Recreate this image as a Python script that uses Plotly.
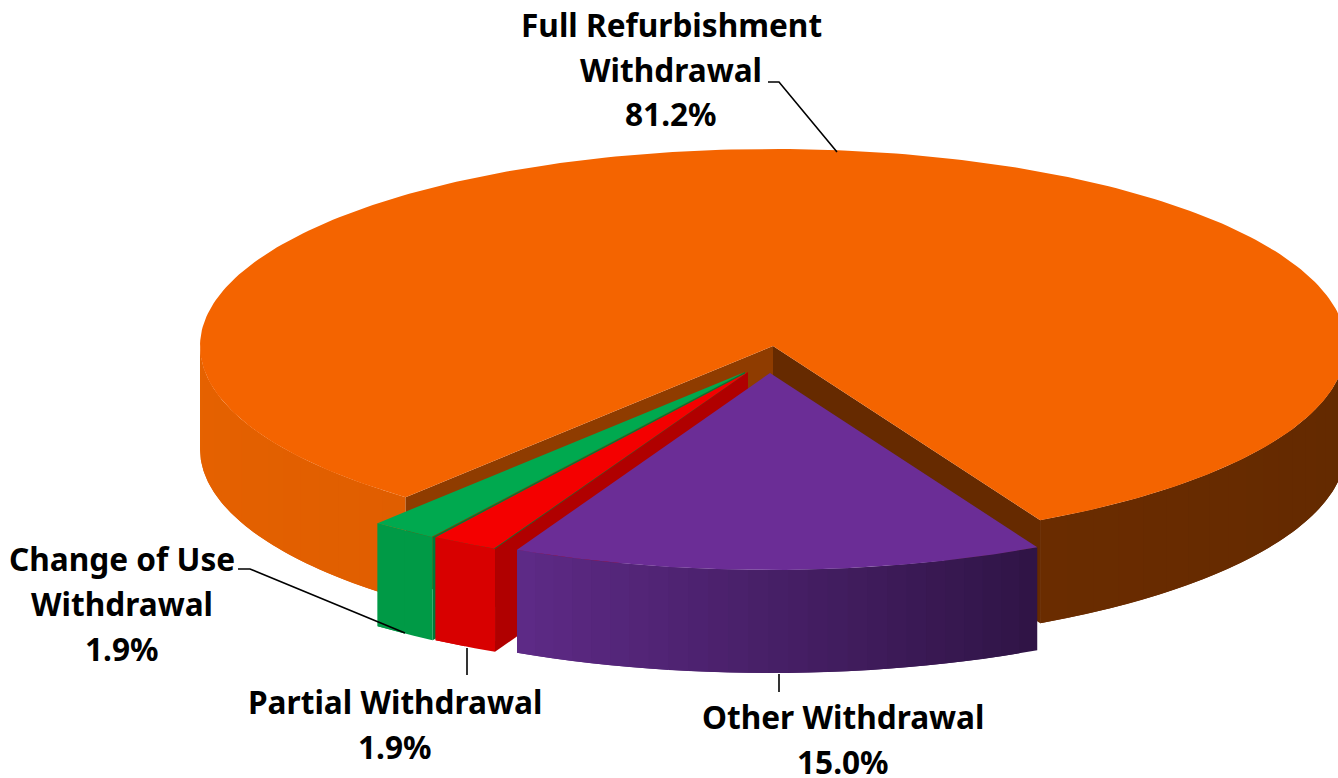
import math
import numpy as np
import plotly.graph_objects as go

# ---- data -------------------------------------------------------------
categories = ["Full Refurbishment Withdrawal", "Other Withdrawal",
              "Partial Withdrawal", "Change of Use Withdrawal"]
values = [81.2, 15.0, 1.9, 1.9]
label_lines = [["Full Refurbishment", "Withdrawal"], ["Other Withdrawal"],
               ["Partial Withdrawal"], ["Change of Use", "Withdrawal"]]

# ---- styling / geometry of the tilted pie ------------------------------
W, H = 1338, 778
RX, RY, DEPTH = 573, 197, 103
START_DEG = 62.2
CENTRES = {0: (773, 346), 1: (770, 373), 2: (748, 372), 3: (745, 372)}
TOP = ["#F46400", "#6B2D96", "#F40000", "#00A94F"]
LABEL_POS = {0: [(671, 24), (671, 69), (671, 113)], 1: [(843, 716), (843, 761)],
             2: [(395, 701), (395, 746)], 3: [(122, 558), (122, 603), (122, 648)]}
LEADERS = [[(768, 82), (779, 82), (837, 152)], [(779, 674), (779, 692)],
           [(467, 648), (467, 675)], [(238, 569), (250, 569), (405, 633)]]


def hex_rgb(h):
    return tuple(int(h[i:i + 2], 16) for i in (1, 3, 5))


def mix(c0, c1, f):
    a, b = hex_rgb(c0), hex_rgb(c1)
    return "rgb(%d,%d,%d)" % tuple(round(x + (y - x) * f) for x, y in zip(a, b))


fig = go.Figure()


def poly(xs, ys, color):
    fig.add_trace(go.Scatter(x=list(xs), y=list(ys), mode="lines", fill="toself", fillcolor=color,
                             line=dict(color=color, width=0), hoverinfo="skip", showlegend=False))


def rim(c, deg):
    t = np.radians(deg)
    return c[0] + RX * np.cos(t), c[1] + RY * np.sin(t)


def wall(c, d0, d1, c0, c1, step=3.0):
    n = max(1, int(abs(d1 - d0) / step))
    edges = np.linspace(d0, d1, n + 1)
    for i in range(n):
        # each band runs on under the next one, so no seams show between bands
        seg = np.linspace(edges[i], edges[min(i + 2, n)], 7)
        x, y = rim(c, seg)
        poly(np.r_[x, x[::-1]], np.r_[y, y[::-1] + DEPTH], mix(c0, c1, (i + .5) / n))


def cut(c, deg, color):
    x, y = rim(c, deg)
    poly([c[0], x, x, c[0]], [c[1], y, y + DEPTH, c[1] + DEPTH], color)


def top(c, d0, d1, color):
    seg = np.linspace(d0, d1, 300)
    x, y = rim(c, seg)
    poly(np.r_[c[0], x], np.r_[c[1], y], color)


total = sum(values)
sweeps = [v / total * 360 for v in values]
a_end = START_DEG
orange_start = a_end - sweeps[0]
orange_start_pos = orange_start + 360

c = CENTRES[0]
wall(c, orange_start_pos, 180, "#E05E00", "#E66200")
wall(c, 0, a_end, "#622900", "#6A2C00")
cut(c, orange_start_pos, "#8F3C00")
cut(c, a_end, "#662A00")
top(c, orange_start, a_end, TOP[0])

a1 = a_end + sweeps[1]
a2 = a1 + sweeps[2]
a3 = a2 + sweeps[3]

c = CENTRES[3]
cut(c, a2, "#007A38")
wall(c, a2, a3, "#009A46", "#009A46")
top(c, a2, a3, TOP[3])

c = CENTRES[2]
cut(c, a1, "#B00000")
wall(c, a1, a2, "#D80000", "#D80000")
top(c, a1, a2, TOP[2])

c = CENTRES[1]
wall(c, a_end, a1, "#2F1445", "#5E2A87", step=2.0)
top(c, a_end, a1, TOP[1])

for pts in LEADERS:
    fig.add_trace(go.Scatter(x=[p[0] for p in pts], y=[p[1] for p in pts], mode="lines",
                             line=dict(color="#000000", width=1.6), hoverinfo="skip", showlegend=False))

for i, lines in enumerate(label_lines):
    texts = lines + [f"{values[i]:.1f}%"]
    for t, (x, y) in zip(texts, LABEL_POS[i]):
        fig.add_annotation(x=x, y=y, text=t, showarrow=False, xanchor="center", yanchor="middle",
                           font=dict(family="Noto Sans", size=31.6, color="#000000", weight="bold"))

fig.update_layout(width=W, height=H, margin=dict(l=0, r=0, t=0, b=0),
                  paper_bgcolor="white", plot_bgcolor="white", showlegend=False,
                  xaxis=dict(range=[0, W], visible=False, fixedrange=True),
                  yaxis=dict(range=[H, 0], visible=False, fixedrange=True))

fig.write_html("out.html", config={"displayModeBar": False},
               post_script="document.body.style.margin='0';document.body.style.overflow='hidden';")
